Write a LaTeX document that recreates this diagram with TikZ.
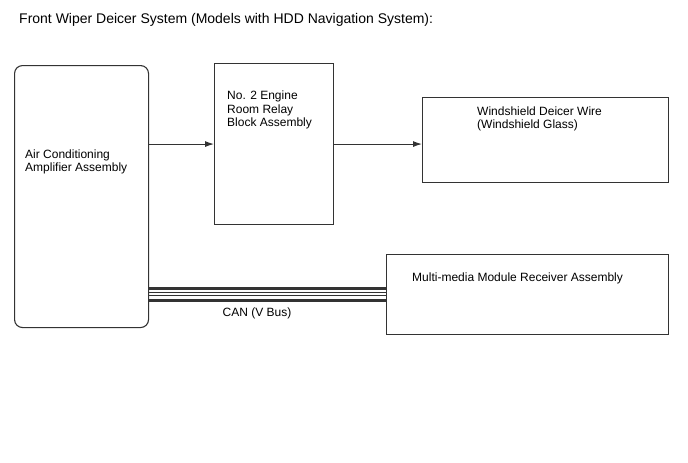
\documentclass[tikz,border=0pt]{standalone}
\usepackage{fontspec}
\setmainfont{Liberation Sans}
\usetikzlibrary{arrows.meta}
\definecolor{linegray}{HTML}{333333}

\begin{document}
\begin{tikzpicture}[x=1pt,y=-1pt,
  box/.style={draw=linegray, line width=1.1pt, anchor=north west, inner sep=0pt},
  lbl/.style={anchor=west, align=left, inner sep=0pt, font=\fontsize{12}{13.5}\selectfont},
  link/.style={draw=linegray, line width=1pt, -{Latex[length=9pt,width=6pt]}},
  bus/.style={draw=linegray, line width=3pt},
  wire/.style={draw=linegray, line width=1pt}]
\useasboundingbox (0,0) rectangle (688,463);
% title
\node (title) at (19,20) [anchor=west, inner sep=0pt, font=\fontsize{14}{16}\selectfont]
  {Front Wiper Deicer System (Models with HDD Navigation System):};
% boxes
\node (amp) at (14,65) [box, rounded corners=8pt, minimum width=134pt, minimum height=262pt] {};
\node (relay) at (214,63) [box, minimum width=119pt, minimum height=161pt] {};
\node (deicer) at (422,97) [box, minimum width=246pt, minimum height=85pt] {};
\node (mmr) at (386,254) [box, minimum width=282pt, minimum height=80pt] {};
% texts
\node (amptxt) at (25,162) [lbl] {Air Conditioning\\Amplifier Assembly};
\node (relaytxt) at (227,110) [lbl] {No. 2 Engine\\Room Relay\\Block Assembly};
\node (deicertxt) at (477,119) [lbl] {Windshield Deicer Wire\\(Windshield Glass)};
\node (mmrtxt) at (412,278) [lbl] {Multi-media Module Receiver Assembly};
\node (cantxt) at (257,313) [inner sep=0pt, font=\fontsize{12}{13.5}\selectfont] {CAN (V Bus)};
% connectors
\draw[link] (amp.east |- relay.west) -- (relay.west);
\draw[link] (relay.east) -- (relay.east -| deicer.west);
% CAN bus
\coordinate (c1) at (0,288);
\coordinate (c2) at (0,292.3);
\coordinate (c3) at (0,295.6);
\coordinate (c4) at (0,300);
\draw[bus] (amp.east |- c1) -- (mmr.west |- c1);
\draw[wire] (amp.east |- c2) -- (mmr.west |- c2);
\draw[wire] (amp.east |- c3) -- (mmr.west |- c3);
\draw[bus] (amp.east |- c4) -- (mmr.west |- c4);
\end{tikzpicture}
\end{document}
